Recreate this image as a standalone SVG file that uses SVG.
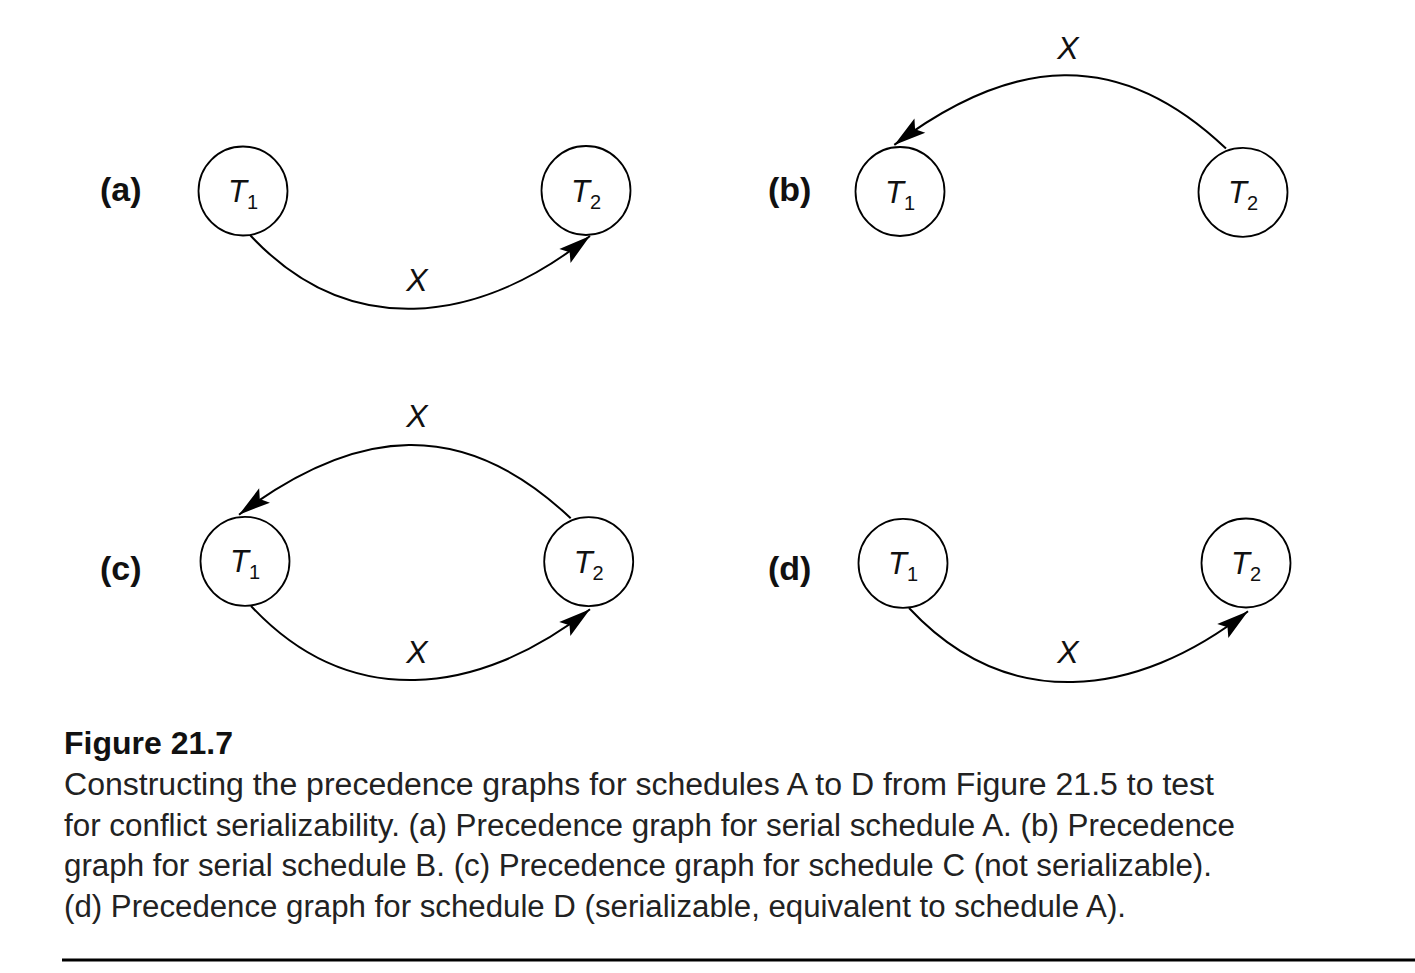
<svg xmlns="http://www.w3.org/2000/svg" width="1415" height="973" viewBox="0 0 1415 973">
<style>
.node{fill:#fff;stroke:#000;stroke-width:1.8}
.edge{fill:none;stroke:#000;stroke-width:2}
.tl{font-family:"Liberation Sans",Arial,sans-serif;font-size:31px;font-style:italic;fill:#111}
.sub{font-style:normal;font-size:20px}
.xl{font-family:"Liberation Sans",Arial,sans-serif;font-size:32px;font-style:italic;fill:#111;text-anchor:middle}
.pl{font-family:"Liberation Sans",Arial,sans-serif;font-size:34px;font-weight:bold;fill:#111}
.fig{font-family:"Liberation Sans",Arial,sans-serif;font-size:32px;font-weight:bold;fill:#111}
.cap{font-family:"Liberation Sans",Arial,sans-serif;font-size:31px;fill:#222}
</style>
<defs>
<marker id="arr" markerUnits="userSpaceOnUse" viewBox="-34 -11 36 22" refX="0" refY="0" markerWidth="36" markerHeight="22" orient="auto">
<path d="M0,0 L-32,-9 L-26,0 L-32,9 Z" fill="#000"/>
</marker>
</defs>
<rect width="1415" height="973" fill="#fff"/>

<g id="connectors">
<path id="edge-a" class="edge" marker-end="url(#arr)" d="M250,235 C347.7,339.8 476.1,326.6 590,236"/>
<path id="edge-b" class="edge" marker-end="url(#arr)" d="M1226,148.5 C1118.9,46.7 1012.3,56 894.3,144.9"/>
<path id="edge-c-up" class="edge" marker-end="url(#arr)" d="M570.7,518.3 C463.6,416.5 357,425.8 239,514.7"/>
<path id="edge-c-low" class="edge" marker-end="url(#arr)" d="M251,606 C348.7,710.8 477.1,697.6 590,609.3"/>
<path id="edge-d" class="edge" marker-end="url(#arr)" d="M909,608 C1006.7,712.8 1135.1,699.6 1248,611.3"/>
<text class="xl" x="417" y="291">X</text>
<text class="xl" x="1068" y="59">X</text>
<text class="xl" x="417" y="427">X</text>
<text class="xl" x="417" y="663">X</text>
<text class="xl" x="1068" y="663">X</text>
</g>

<g id="panel-labels">
<text class="pl" x="100" y="201">(a)</text>
<text class="pl" x="768" y="201">(b)</text>
<text class="pl" x="100" y="580">(c)</text>
<text class="pl" x="768" y="580">(d)</text>
</g>

<g id="a-T1"><circle class="node" cx="243" cy="191" r="44.5"/><text class="tl" x="243" y="202" text-anchor="middle">T<tspan class="sub" dy="7">1</tspan></text></g>
<g id="a-T2"><circle class="node" cx="586" cy="190.5" r="44.5"/><text class="tl" x="586" y="201.5" text-anchor="middle">T<tspan class="sub" dy="7">2</tspan></text></g>

<g id="b-T1"><circle class="node" cx="900" cy="191.5" r="44.5"/><text class="tl" x="900" y="202.5" text-anchor="middle">T<tspan class="sub" dy="7">1</tspan></text></g>
<g id="b-T2"><circle class="node" cx="1243" cy="192.3" r="44.5"/><text class="tl" x="1243" y="203.3" text-anchor="middle">T<tspan class="sub" dy="7">2</tspan></text></g>

<g id="c-T1"><circle class="node" cx="245" cy="561.3" r="44.5"/><text class="tl" x="245" y="572.3" text-anchor="middle">T<tspan class="sub" dy="7">1</tspan></text></g>
<g id="c-T2"><circle class="node" cx="588.7" cy="561.7" r="44.5"/><text class="tl" x="588.7" y="572.7" text-anchor="middle">T<tspan class="sub" dy="7">2</tspan></text></g>

<g id="d-T1"><circle class="node" cx="903" cy="563.3" r="44.5"/><text class="tl" x="903" y="574.3" text-anchor="middle">T<tspan class="sub" dy="7">1</tspan></text></g>
<g id="d-T2"><circle class="node" cx="1246" cy="563" r="44.5"/><text class="tl" x="1246" y="574" text-anchor="middle">T<tspan class="sub" dy="7">2</tspan></text></g>

<g id="caption">
<text class="fig" x="64" y="754">Figure 21.7</text>
<text class="cap" x="64" y="795" textLength="1150" lengthAdjust="spacingAndGlyphs">Constructing the precedence graphs for schedules A to D from Figure 21.5 to test</text>
<text class="cap" x="64" y="836" textLength="1171" lengthAdjust="spacingAndGlyphs">for conflict serializability. (a) Precedence graph for serial schedule A. (b) Precedence</text>
<text class="cap" x="64" y="876" textLength="1148" lengthAdjust="spacingAndGlyphs">graph for serial schedule B. (c) Precedence graph for schedule C (not serializable).</text>
<text class="cap" x="64" y="917" textLength="1062" lengthAdjust="spacingAndGlyphs">(d) Precedence graph for schedule D (serializable, equivalent to schedule A).</text>
<line x1="62" y1="960" x2="1415" y2="960" stroke="#000" stroke-width="3"/>
</g>
</svg>
